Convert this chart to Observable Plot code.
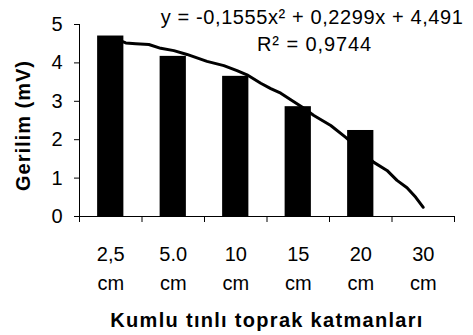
<!DOCTYPE html>
<html><head><meta charset="utf-8">
<script src="https://cdn.jsdelivr.net/npm/d3@7"></script>
<script src="https://cdn.jsdelivr.net/npm/@observablehq/plot@0.6"></script>
<style>html,body{margin:0;padding:0;background:#fff;}</style>
</head><body><div id="chart"></div>
<script>
const categories = ["2,5 cm", "5.0 cm", "10 cm", "15 cm", "20 cm", "30 cm"];
const tickLabels = ["2,5\ncm", "5.0\ncm", "10\ncm", "15\ncm", "20\ncm", "30\ncm"];
const voltage = [4.70, 4.17, 3.65, 2.86, 2.24, null];
const trendX = [1.00, 1.18, 1.24, 1.40, 1.61, 1.80, 2.01, 2.22, 2.54, 2.81, 3.02, 3.18, 3.40, 3.56, 3.72, 3.88, 4.06, 4.25, 4.52, 4.76, 5.21, 5.42, 5.58, 5.74, 5.88, 6.00];
const trendY = [4.56, 4.56, 4.52, 4.50, 4.48, 4.38, 4.32, 4.22, 4.04, 3.93, 3.80, 3.69, 3.47, 3.33, 3.21, 3.04, 2.85, 2.63, 2.37, 2.06, 1.41, 1.20, 0.94, 0.75, 0.50, 0.24];
const yTicks = [0, 1, 2, 3, 4, 5];
const equation = "y = -0,1555x² + 0,2299x + 4,491";
const rSquared = "R² = 0,9744";
const yTitle = "Gerilim (mV)";
const xTitle = "Kumlu tınlı toprak katmanları";

const positions = categories.map((c, i) => i + 1);
const boundaries = [0.5, ...positions.map(p => p + 0.5)];
const bars = categories.map((c, i) => ({category: c, pos: positions[i], value: voltage[i]})).filter(d => d.value != null);
const trend = trendX.map((x, i) => ({x, y: trendY[i]}));
const half = 0.21;

const plot = Plot.plot({
  width: 473, height: 335,
  marginLeft: 79, marginRight: 19, marginTop: 24, marginBottom: 119,
  x: {domain: [0.5, 6.5]},
  y: {domain: [0, 5]},
  style: {fontFamily: "'Liberation Sans', Arial, sans-serif", fontSize: "20px", background: "#fff", color: "#000"},
  marks: [
    Plot.line(trend, {x: "x", y: "y", stroke: "#000", strokeWidth: 3, strokeLinejoin: "round", strokeLinecap: "round"}),
    Plot.rectY(bars, {x1: d => d.pos - half, x2: d => d.pos + half, y: "value", fill: "#000"}),
    Plot.ruleX([0.5], {stroke: "#000"}),
    Plot.ruleY([0], {stroke: "#000"}),
    Plot.axisY({ticks: yTicks, tickSize: 5, tickPadding: 12, tickFormat: d => String(d), label: null, fontSize: 20}),
    Plot.axisX({ticks: boundaries, tickSize: 6, tickFormat: () => "", label: null}),
    Plot.axisX({ticks: positions, tickSize: 0, tickPadding: 24, tickFormat: i => tickLabels[i - 1], lineHeight: 1.45, label: null, fontSize: 20}),
    Plot.text([equation], {frameAnchor: "top-right", textAnchor: "end", lineAnchor: "bottom", dx: 9, dy: -0.7, fontSize: 20}),
    Plot.text([rSquared], {frameAnchor: "top-left", textAnchor: "middle", lineAnchor: "bottom", dx: 235, dy: 26, fontSize: 20}),
    Plot.text([yTitle], {frameAnchor: "left", rotate: -90, textAnchor: "middle", lineAnchor: "middle", dx: -56, dy: 5, fontWeight: "bold", fontSize: 20}),
    Plot.text([xTitle], {frameAnchor: "bottom", textAnchor: "middle", lineAnchor: "middle", dy: 104, fontWeight: "bold", fontSize: 20})
  ]
});

const sp = {[equation]: "0.6px", [rSquared]: "0.9px", [yTitle]: "1px", [xTitle]: "1.3px"};
d3.select(plot).selectAll("text").each(function () {
  const t = this.textContent;
  if (sp[t]) this.setAttribute("letter-spacing", sp[t]);
});
document.getElementById("chart").appendChild(plot);
</script>
</body></html>
